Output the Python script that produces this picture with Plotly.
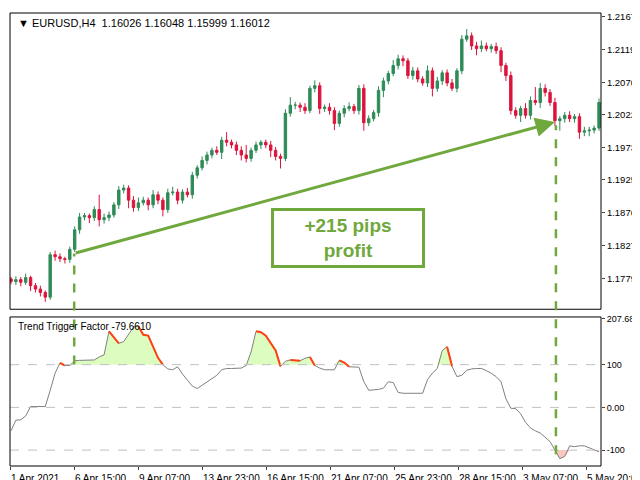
import plotly.graph_objects as go

# H4 closes (open = previous close)
closes = [1.1774, 1.1777, 1.1773, 1.1780, 1.1768, 1.1763, 1.1758, 1.1751, 1.1814, 1.1811,
          1.1808, 1.1807, 1.1822, 1.1851, 1.1870, 1.1872, 1.1869, 1.1881, 1.1866, 1.1869,
          1.1873, 1.1888, 1.1910, 1.1913, 1.1895, 1.1884, 1.1891, 1.1895, 1.1888, 1.1903,
          1.1895, 1.1881, 1.1906, 1.1907, 1.1895, 1.1907, 1.1903, 1.1932, 1.1943, 1.1954,
          1.1962, 1.1969, 1.1966, 1.1984, 1.1981, 1.1977, 1.1969, 1.1962, 1.1957, 1.1969,
          1.1977, 1.1981, 1.1977, 1.1969, 1.1960, 1.1957, 1.2024, 1.2036, 1.2036, 1.2033,
          1.2028, 1.2061, 1.2065, 1.2031, 1.2033, 1.2028, 1.2009, 1.2024, 1.2031, 1.2034,
          1.2028, 1.2061, 1.2010, 1.2016, 1.2025, 1.2058, 1.2072, 1.2083, 1.2095, 1.2105,
          1.2102, 1.2080, 1.2087, 1.2075, 1.2069, 1.2087, 1.2061, 1.2072, 1.2084, 1.2069,
          1.2061, 1.2087, 1.2134, 1.2139, 1.2124, 1.2120, 1.2124, 1.2120, 1.2123, 1.2117,
          1.2095, 1.2080, 1.2028, 1.2021, 1.2031, 1.2021, 1.2043, 1.2040, 1.2061, 1.2055,
          1.2040, 1.2013, 1.2016, 1.2021, 1.2016, 1.2019, 1.1996, 1.1998, 1.1999, 1.2002,
          1.2040]
first_open = 1.1778
# wick lengths in pips above / below the body
wick_hi = [3, 5, 4, 6, 3, 4, 5, 3, 4, 6, 5, 3, 4, 5, 6, 4, 3, 5, 22, 6,
           5, 4, 6, 5, 4, 6, 8, 5, 4, 7, 5, 4, 6, 8, 5, 4, 6, 5, 4, 6,
           5, 4, 6, 5, 12, 4, 5, 6, 15, 4, 5, 3, 4, 6, 5, 4, 6, 12, 5, 4,
           6, 4, 8, 5, 4, 6, 5, 4, 5, 6, 4, 5, 6, 5, 4, 6, 5, 4, 8, 6,
           5, 4, 6, 5, 4, 8, 5, 6, 4, 5, 6, 4, 6, 10, 5, 6, 8, 5, 4, 6,
           5, 4, 6, 5, 4, 8, 6, 20, 8, 6, 5, 7, 4, 5, 6, 4, 5, 6, 5, 4, 6]
wick_lo = [4, 5, 6, 4, 8, 5, 6, 7, 4, 6, 5, 6, 5, 4, 6, 5, 8, 5, 10, 6,
           5, 4, 6, 5, 12, 6, 5, 4, 8, 5, 6, 10, 5, 4, 6, 5, 4, 6, 5, 4,
           6, 5, 4, 10, 6, 5, 7, 8, 6, 5, 4, 6, 5, 10, 6, 15, 4, 5, 6, 7,
           5, 4, 6, 8, 5, 6, 10, 5, 6, 4, 5, 6, 12, 5, 4, 6, 10, 5, 4, 6,
           8, 5, 6, 5, 4, 6, 12, 5, 6, 5, 4, 6, 5, 4, 6, 10, 5, 4, 6, 5,
           10, 8, 6, 5, 10, 5, 6, 4, 8, 6, 5, 8, 15, 6, 5, 6, 10, 6, 8, 5, 4]

# Trend Trigger Factor values per bar
ttf = [-55, -30, -29, -20, 2, 2, 2, 2, 40, 80, 104, 98, 98, 109, 110, 110, 111, 111, 118, 123,
       178, 165, 150, 154, 170, 188, 190, 170, 168, 140, 116, 100, 90, 88, 95, 78, 65, 50, 44, 52,
       60, 67, 75, 88, 91, 91, 91, 92, 98, 130, 178, 176, 168, 150, 133, 96, 108, 111, 110, 109,
       115, 118, 98, 92, 88, 88, 88, 110, 105, 95, 95, 94, 60, 40, 41, 42, 45, 60, 58, 35,
       33, 33, 33, 33, 33, 65, 80, 91, 133, 142, 96, 72, 75, 87, 90, 91, 91, 86, 80, 72,
       60, 20, -2, -3, -15, -35, -48, -55, -60, -70, -80, -100, -120, -115, -90, -92, -90, -90, -95, -100,
       -104]

tick_labels = ["1 Apr 2021", "6 Apr 15:00", "9 Apr 07:00", "13 Apr 23:00", "16 Apr 15:00",
               "21 Apr 07:00", "25 Apr 23:00", "28 Apr 15:00", "3 May 07:00", "5 May 20:00"]
price_ticks = [1.21670, 1.21190, 1.20700, 1.20220, 1.19730, 1.19250, 1.18760, 1.18270, 1.17790, 1.17300]
ttf_ticks = [207.6868, 100, 0, -100, -138.8793]
ttf_tick_text = ["207.6868", "100", "0.00", "-100", "-138.8793"]

n = len(closes)
idx = list(range(n))
opens = [first_open] + closes[:-1]
highs = [max(o, c) + h * 0.0001 for o, c, h in zip(opens, closes, wick_hi)]
lows = [min(o, c) - l * 0.0001 for o, c, l in zip(opens, closes, wick_lo)]
tick_pos = [13.06 * k for k in range(len(tick_labels))]

GREEN = "#2e8b57"
RED = "#dc143c"
ARROW = "#6fa83c"

fig = go.Figure()
fig.add_trace(go.Candlestick(
    x=idx, open=opens, high=highs, low=lows, close=closes,
    increasing=dict(line=dict(color=GREEN, width=1), fillcolor=GREEN),
    decreasing=dict(line=dict(color=RED, width=1), fillcolor=RED),
    whiskerwidth=0, xaxis="x", yaxis="y", hoverinfo="skip"))

# indicator fills against the +100 / -100 levels
fig.add_trace(go.Scatter(x=idx, y=[100] * n, mode="lines", line=dict(width=0),
                         xaxis="x", yaxis="y2", hoverinfo="skip"))
fig.add_trace(go.Scatter(x=idx, y=[max(v, 100) for v in ttf], mode="lines", line=dict(width=0),
                         fill="tonexty", fillcolor="#dcfcc0", xaxis="x", yaxis="y2", hoverinfo="skip"))
fig.add_trace(go.Scatter(x=idx, y=[-100] * n, mode="lines", line=dict(width=0),
                         xaxis="x", yaxis="y2", hoverinfo="skip"))
fig.add_trace(go.Scatter(x=idx, y=[min(v, -100) for v in ttf], mode="lines", line=dict(width=0),
                         fill="tonexty", fillcolor="#f8c8c0", xaxis="x", yaxis="y2", hoverinfo="skip"))
fig.add_trace(go.Scatter(x=idx, y=ttf, mode="lines", line=dict(color="#808080", width=1),
                         xaxis="x", yaxis="y2", hoverinfo="skip"))
# falling stretches above +100 drawn in red
falls = [v if (v > 100 or (i > 0 and ttf[i - 1] > 100)) and i > 0 and v < ttf[i - 1] else None
         for i, v in enumerate(ttf)]
seg = [ttf[i] if (falls[i] is not None or (i + 1 < n and falls[i + 1] is not None)) else None
       for i in range(n)]
fig.add_trace(go.Scatter(x=idx, y=seg, mode="lines", line=dict(color="#ff4010", width=2),
                         connectgaps=False, xaxis="x", yaxis="y2", hoverinfo="skip"))

shapes = []
for lvl in [100, 0, -100]:
    shapes.append(dict(type="line", xref="paper", yref="y2", x0=0, x1=1, y0=lvl, y1=lvl,
                       line=dict(color="#c0c0c0", width=1, dash="dash")))
# panel frames
shapes.append(dict(type="rect", xref="paper", yref="paper", x0=0, x1=1, y0=0.346, y1=1,
                   line=dict(color="black", width=1)))
shapes.append(dict(type="rect", xref="paper", yref="paper", x0=0, x1=1, y0=0, y1=0.329,
                   line=dict(color="black", width=1)))
# entry / exit markers
shapes.append(dict(type="line", xref="x", yref="paper", x0=12.9, x1=12.9, y0=0.224, y1=0.469,
                   line=dict(color=ARROW, width=2.5, dash="dash")))
shapes.append(dict(type="line", xref="x", yref="paper", x0=111.2, x1=111.2, y0=0.026, y1=0.752,
                   line=dict(color=ARROW, width=2.5, dash="dash")))

annotations = [
    dict(x=111.0, y=1.2011, xref="x", yref="y", ax=12.9, ay=1.1816, axref="x", ayref="y",
         showarrow=True, arrowhead=2, arrowsize=1.3, arrowwidth=3, arrowcolor=ARROW, text=""),
    dict(x=68.8, y=1.18395, xref="x", yref="y", text="<b>+215 pips<br>profit</b>", showarrow=False,
         font=dict(size=19, color=ARROW, family="Liberation Sans"), bgcolor="white",
         bordercolor=ARROW, borderwidth=3, borderpad=4, width=140),
    dict(x=0.01, y=0.995, xref="paper", yref="paper", xanchor="left", yanchor="top", showarrow=False,
         text="▼ EURUSD,H4  1.16026 1.16048 1.15999 1.16012", font=dict(size=11, color="black")),
    dict(x=0.01, y=0.325, xref="paper", yref="paper", xanchor="left", yanchor="top", showarrow=False,
         text="Trend Trigger Factor -79.6610", font=dict(size=10, color="black")),
]
# MT4-style time labels, left-aligned at their tick
for pos, lab in zip(tick_pos, tick_labels):
    annotations.append(dict(x=pos, y=-0.012, xref="x", yref="paper", xanchor="left", yanchor="top",
                            xshift=-2, showarrow=False, text=lab, font=dict(size=10, color="black")))

fig.update_layout(
    width=640, height=480, margin=dict(l=2, r=47, t=2, b=22),
    paper_bgcolor="white", plot_bgcolor="white", showlegend=False,
    font=dict(family="Liberation Sans", size=10, color="black"),
    xaxis=dict(range=[-0.2, 120.4], rangeslider=dict(visible=False), showgrid=False, zeroline=False,
               tickvals=tick_pos, showticklabels=False, ticks="outside", ticklen=3, anchor="y2"),
    yaxis=dict(domain=[0.346, 1], range=[1.17330, 1.21729], side="right", tickvals=price_ticks,
               ticktext=["%.5f" % v for v in price_ticks], showgrid=False, zeroline=False,
               ticks="outside", ticklen=3, tickfont=dict(size=9.5)),
    yaxis2=dict(domain=[0, 0.329], range=[-137.2, 211.6], side="right", tickvals=ttf_ticks,
                ticktext=ttf_tick_text, showgrid=False, zeroline=False, ticks="outside", ticklen=3,
                tickfont=dict(size=9)),
    shapes=shapes, annotations=annotations,
)

fig.write_html("out.html")
